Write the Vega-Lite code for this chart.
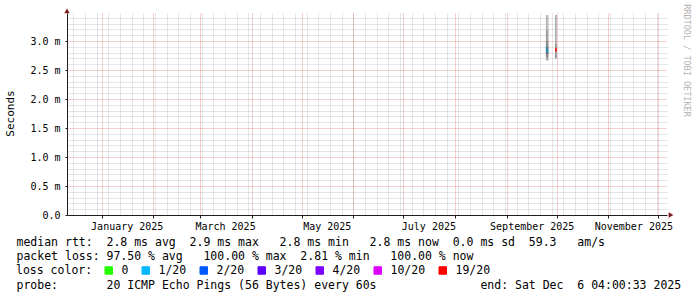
{
  "$schema": "https://vega.github.io/schema/vega-lite/v6.json",
  "width": 600,
  "height": 202,
  "autosize": {"type": "none"},
  "padding": {"left": 67, "top": 13, "right": 30, "bottom": 82},
  "background": "white",
  "config": {"view": {"stroke": null}},
  "datasets": {
    "smoke": [
      {"t": "2025-09-24T12:00:00Z", "t2": "2025-09-25T00:00:00Z", "lo": 3.20, "hi": 3.45, "density": 1},
      {"t": "2025-09-24T12:00:00Z", "t2": "2025-09-25T00:00:00Z", "lo": 3.00, "hi": 3.20, "density": 2},
      {"t": "2025-09-24T12:00:00Z", "t2": "2025-09-25T00:00:00Z", "lo": 2.90, "hi": 3.00, "density": 3},
      {"t": "2025-09-24T12:00:00Z", "t2": "2025-09-25T00:00:00Z", "lo": 2.78, "hi": 2.90, "density": 5},
      {"t": "2025-09-24T12:00:00Z", "t2": "2025-09-25T00:00:00Z", "lo": 2.72, "hi": 2.78, "density": 3},
      {"t": "2025-09-24T12:00:00Z", "t2": "2025-09-25T00:00:00Z", "lo": 2.67, "hi": 2.72, "density": 1.5},
      {"t": "2025-09-25T00:00:00Z", "t2": "2025-09-25T12:00:00Z", "lo": 3.20, "hi": 3.45, "density": 1},
      {"t": "2025-09-25T00:00:00Z", "t2": "2025-09-25T12:00:00Z", "lo": 3.00, "hi": 3.20, "density": 2},
      {"t": "2025-09-25T00:00:00Z", "t2": "2025-09-25T12:00:00Z", "lo": 2.90, "hi": 3.00, "density": 3},
      {"t": "2025-09-25T00:00:00Z", "t2": "2025-09-25T12:00:00Z", "lo": 2.77, "hi": 2.90, "density": 5},
      {"t": "2025-09-25T00:00:00Z", "t2": "2025-09-25T12:00:00Z", "lo": 2.71, "hi": 2.77, "density": 3},
      {"t": "2025-09-25T00:00:00Z", "t2": "2025-09-25T12:00:00Z", "lo": 2.66, "hi": 2.71, "density": 1.5},
      {"t": "2025-09-25T12:00:00Z", "t2": "2025-09-26T00:00:00Z", "lo": 3.20, "hi": 3.44, "density": 1},
      {"t": "2025-09-25T12:00:00Z", "t2": "2025-09-26T00:00:00Z", "lo": 3.00, "hi": 3.20, "density": 2},
      {"t": "2025-09-25T12:00:00Z", "t2": "2025-09-26T00:00:00Z", "lo": 2.90, "hi": 3.00, "density": 3},
      {"t": "2025-09-25T12:00:00Z", "t2": "2025-09-26T00:00:00Z", "lo": 2.77, "hi": 2.90, "density": 4.5},
      {"t": "2025-09-25T12:00:00Z", "t2": "2025-09-26T00:00:00Z", "lo": 2.71, "hi": 2.77, "density": 3},
      {"t": "2025-09-25T12:00:00Z", "t2": "2025-09-26T00:00:00Z", "lo": 2.66, "hi": 2.71, "density": 1.5},
      {"t": "2025-09-30T00:00:00Z", "t2": "2025-10-01T00:00:00Z", "lo": 2.95, "hi": 3.45, "density": 1},
      {"t": "2025-09-30T00:00:00Z", "t2": "2025-10-01T00:00:00Z", "lo": 2.70, "hi": 2.95, "density": 2}
    ],
    "median": [
      {"t": "2025-09-24T12:00:00Z", "t2": "2025-09-25T00:00:00Z", "med": 2.88, "loss": "1/20"},
      {"t": "2025-09-25T00:00:00Z", "t2": "2025-09-25T12:00:00Z", "med": 2.83, "loss": "1/20"},
      {"t": "2025-09-25T12:00:00Z", "t2": "2025-09-26T00:00:00Z", "med": 2.83, "loss": "1/20"},
      {"t": "2025-09-30T00:00:00Z", "t2": "2025-10-01T00:00:00Z", "med": 2.85, "loss": "19/20"}
    ]
  },
  "resolve": {"axis": {"x": "independent", "y": "independent"}},
  "layer": [
    {
      "data": {"name": "smoke"},
      "mark": {"type": "rect"},
      "encoding": {
        "x": {
          "field": "t", "type": "temporal",
          "scale": {"type": "utc", "nice": false, "domain": [
            {"year": 2024, "month": 12, "date": 11, "hours": 4, "minutes": 0, "seconds": 33, "utc": true},
            {"year": 2025, "month": 12, "date": 6, "hours": 4, "minutes": 0, "seconds": 33, "utc": true}
          ]},
          "axis": {
            "orient": "bottom", "tickCount": {"interval": "week", "step": 1},
            "grid": true, "gridColor": "#8f8f8f", "gridOpacity": 0.45, "gridDash": [1, 1], "gridWidth": 1,
            "labels": false, "ticks": false, "domain": false, "title": null
          }
        },
        "x2": {"field": "t2"},
        "y": {
          "field": "lo", "type": "quantitative",
          "scale": {"domain": [0, 3.483], "nice": false, "zero": true},
          "axis": {
            "orient": "right",
            "values": [0.1, 0.2, 0.3, 0.4, 0.6, 0.7, 0.8, 0.9, 1.1, 1.2, 1.3, 1.4, 1.6, 1.7, 1.8, 1.9, 2.1, 2.2, 2.3, 2.4, 2.6, 2.7, 2.8, 2.9, 3.1, 3.2, 3.3, 3.4],
            "grid": true, "gridColor": "#8f8f8f", "gridOpacity": 0.45, "gridDash": [1, 1], "gridWidth": 1,
            "labels": false, "ticks": false, "domain": false,
            "title": "RRDTOOL / TOBI OETIKER", "titleAngle": 90, "titleX": 19, "titleY": 47,
            "titleAlign": "center", "titleBaseline": "middle",
            "titleFont": "DejaVu Sans Mono", "titleFontSize": 8.5, "titleFontWeight": "normal", "titleColor": "#b4b4b4"
          }
        },
        "y2": {"field": "hi"},
        "fill": {
          "field": "density", "type": "quantitative",
          "scale": {"domain": [1, 5], "range": ["#a8a8a8", "#383838"]},
          "legend": null
        }
      }
    },
    {
      "data": {"name": "median"},
      "mark": {"type": "rule", "strokeWidth": 3, "strokeCap": "butt"},
      "encoding": {
        "x": {
          "field": "t", "type": "temporal",
          "axis": {
            "orient": "bottom", "tickCount": {"interval": "month", "step": 1},
            "grid": true, "gridColor": "#de5050", "gridOpacity": 0.55, "gridDash": [1, 1], "gridWidth": 1,
            "ticks": true, "tickSize": 3, "tickColor": "#1f1f1f",
            "domain": true, "domainColor": "#1f1f1f",
            "labelExpr": "(utcmonth(datum.value) % 2 == 0) ? utcFormat(datum.value, '%B %Y') : ''",
            "labelOffset": 25, "labelFont": "DejaVu Sans Mono", "labelFontSize": 10, "labelColor": "#000",
            "labelOverlap": false, "labelFlush": false, "labelPadding": 3, "labelBaseline": "top",
            "title": [
              "median rtt: \u00a02.8 ms avg \u00a02.9 ms max \u00a0\u00a02.8 ms min \u00a0\u00a02.8 ms now \u00a00.0 ms sd \u00a059.3 \u00a0\u00a0am/s",
              "packet loss: 97.50 % avg \u00a0\u00a0100.00 % max \u00a02.81 % min \u00a0\u00a0100.00 % now"
            ],
            "titleX": -51, "titleY": 30.5, "titleAlign": "left", "titleAnchor": null, "titleBaseline": "alphabetic",
            "titleFont": "DejaVu Sans Mono", "titleFontSize": 11.5, "titleFontWeight": "normal", "titleColor": "#000",
            "titleLineHeight": 14.2
          }
        },
        "x2": {"field": "t2"},
        "y": {
          "field": "med", "type": "quantitative",
          "axis": {
            "orient": "left", "values": [0, 0.5, 1, 1.5, 2, 2.5, 3],
            "grid": true, "gridColor": "#de5050", "gridOpacity": 0.55, "gridDash": [1, 1], "gridWidth": 1,
            "labelExpr": "datum.value == 0 ? '0.0' : format(datum.value, '.1f') + ' m'",
            "labelFont": "DejaVu Sans Mono", "labelFontSize": 10, "labelColor": "#000", "labelPadding": 5,
            "ticks": true, "tickSize": 2, "tickColor": "#1f1f1f",
            "domain": true, "domainColor": "#1f1f1f",
            "title": "Seconds", "titleX": -57, "titleY": 100, "titleAngle": 270,
            "titleAlign": "center", "titleBaseline": "middle",
            "titleFont": "DejaVu Sans Mono", "titleFontSize": 11, "titleFontWeight": "normal", "titleColor": "#000"
          }
        },
        "stroke": {
          "field": "loss", "type": "nominal",
          "scale": {
            "domain": ["0", "1/20", "2/20", "3/20", "4/20", "10/20", "19/20"],
            "range": ["#26ff00", "#00b8ff", "#0059ff", "#5e00ff", "#7e00ff", "#dd00ff", "#ff0000"]
          },
          "legend": {
            "title": "loss color:", "orient": "none", "legendX": -51, "legendY": 251.5,
            "direction": "horizontal", "titleOrient": "left", "titlePadding": 10,
            "titleFont": "DejaVu Sans Mono", "titleFontSize": 11.5, "titleFontWeight": "normal", "titleColor": "#000",
            "labelFont": "DejaVu Sans Mono", "labelFontSize": 11.5, "labelColor": "#000",
            "labelOffset": 7, "columnPadding": 11,
            "symbolType": "square", "symbolSize": 56, "symbolStrokeWidth": 1,
            "encode": {
              "symbols": {
                "update": {
                  "fill": {"scale": "stroke", "field": "value"},
                  "stroke": {"value": "#000"},
                  "strokeWidth": {"value": 1},
                  "opacity": {"value": 1}
                }
              }
            }
          }
        }
      }
    },
    {
      "data": {"values": [{}]},
      "mark": {"type": "point", "shape": "triangle-up", "filled": true, "color": "#801f1f", "size": 30, "opacity": 1, "clip": false},
      "encoding": {
        "x": {
          "datum": {"year": 2024, "month": 12, "date": 11, "hours": 4, "minutes": 0, "seconds": 33, "utc": true}, "type": "temporal",
          "axis": {
            "orient": "bottom", "grid": false, "labels": false, "ticks": false, "domain": false,
            "title": "probe: \u00a0\u00a0\u00a0\u00a0\u00a0\u00a020 ICMP Echo Pings (56 Bytes) every 60s \u00a0\u00a0\u00a0\u00a0\u00a0\u00a0\u00a0\u00a0\u00a0\u00a0\u00a0\u00a0\u00a0\u00a0end: Sat Dec \u00a06 04:00:33 2025",
            "titleX": -51, "titleY": 73.1, "titleAlign": "left", "titleAnchor": null, "titleBaseline": "alphabetic",
            "titleFont": "DejaVu Sans Mono", "titleFontSize": 11.5, "titleFontWeight": "normal", "titleColor": "#000"
          }
        },
        "y": {"datum": 3.52, "type": "quantitative", "axis": null}
      }
    },
    {
      "data": {"values": [{}]},
      "mark": {"type": "point", "shape": "triangle-right", "filled": true, "color": "#801f1f", "size": 30, "opacity": 1, "clip": false},
      "encoding": {
        "x": {"datum": {"year": 2025, "month": 12, "date": 8, "hours": 14, "utc": true}, "type": "temporal", "axis": null},
        "y": {"datum": 0, "type": "quantitative", "axis": null}
      }
    }
  ]
}
